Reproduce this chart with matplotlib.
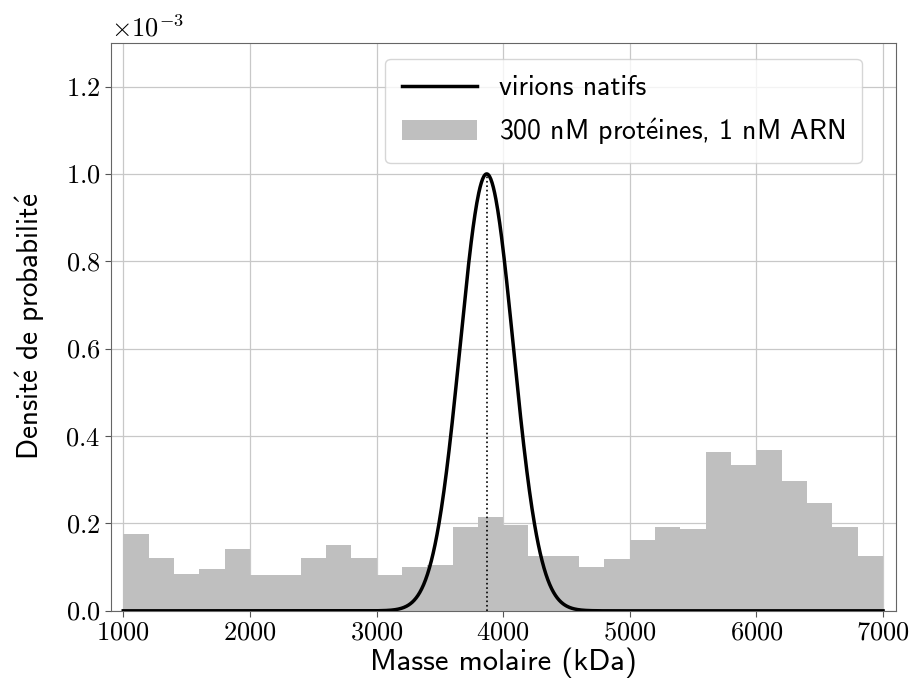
import numpy as np
import matplotlib
matplotlib.use("Agg")
from matplotlib import pyplot as plt
from matplotlib.ticker import FuncFormatter

plt.rcParams['mathtext.fontset'] = 'cm'
plt.rcParams['font.family'] = ['cmss10', 'DejaVu Sans']
plt.rcParams['axes.unicode_minus'] = False

# histogram, 200 kDa bins from 1000 to 7000 (density values x1e-3)
bin_edges = [1000, 1200, 1400, 1600, 1800, 2000, 2200, 2400, 2600, 2800, 3000,
             3200, 3400, 3600, 3800, 4000, 4200, 4400, 4600, 4800, 5000,
             5200, 5400, 5600, 5800, 6000, 6200, 6400, 6600, 6800, 7000]
densities = [0.176, 0.121, 0.084, 0.095, 0.142, 0.082, 0.082, 0.121, 0.150, 0.122,
             0.082, 0.101, 0.105, 0.193, 0.214, 0.197, 0.125, 0.125, 0.100, 0.118,
             0.163, 0.193, 0.188, 0.364, 0.333, 0.368, 0.297, 0.246, 0.192, 0.125]

# native virions: gaussian
native_mean = 3870
native_std = 210
native_peak = 1.0

xs = np.linspace(1000, 7000, 1200)
ys = native_peak * np.exp(-0.5 * ((xs - native_mean) / native_std) ** 2)

fig, ax = plt.subplots(figsize=(9.14, 6.91), dpi=100)
fig.subplots_adjust(left=0.121, right=0.980, top=0.938, bottom=0.116)

ax.grid(True, color='#c8c8c8', linewidth=0.9, zorder=0)
ax.set_axisbelow(True)

eacute = r'$\mathsf{\acute{e}}$'
ax.plot(xs, ys * 1e-3, color='black', linewidth=2.5, label='virions natifs', zorder=3)
ax.hist(bin_edges[:-1], bins=bin_edges, weights=np.array(densities) * 1e-3,
        color='#bfbfbf', label='300 nM prot' + eacute + 'ines, 1 nM ARN', zorder=2)
ax.plot([native_mean, native_mean], [0, native_peak * 1e-3], color='black',
        linestyle=':', linewidth=1.2, zorder=3)

ax.set_xlim(900, 7100)
ax.set_ylim(0, 1.3e-3)
ax.set_xticks([1000, 2000, 3000, 4000, 5000, 6000, 7000])
ax.set_yticks([0, 0.2e-3, 0.4e-3, 0.6e-3, 0.8e-3, 1.0e-3, 1.2e-3])
ax.xaxis.set_major_formatter(FuncFormatter(lambda v, p: r'$%d$' % v))
ax.yaxis.set_major_formatter(FuncFormatter(lambda v, p: r'$%.1f$' % (v * 1e3)))
ax.tick_params(labelsize=19, color='#555555', length=4)
ax.text(0.0, 1.003, r'$\times10^{-3}$', transform=ax.transAxes, fontsize=19,
        ha='left', va='bottom')

for s in ax.spines.values():
    s.set_color('#666666')

ax.set_xlabel('Masse molaire (kDa)', fontsize=22, labelpad=2)
ax.set_ylabel('Densit' + eacute + ' de probabilit' + eacute, fontsize=21, labelpad=13)

ax.legend(loc='upper right', fontsize=20, handlelength=2.7, borderpad=0.6,
          labelspacing=0.55, bbox_to_anchor=(0.957, 0.972), borderaxespad=0)

fig.savefig('out.png', dpi=100)
